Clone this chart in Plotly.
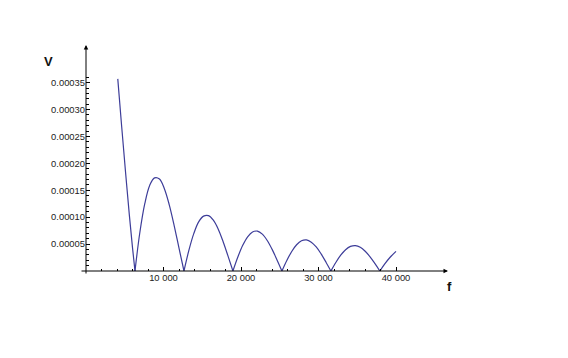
import plotly.graph_objects as go

# Frequency samples (Hz)
f_vals = [4100, 4600, 5100, 5600, 6000, 6320,
          6952, 7584, 8216, 8848, 9480, 10112, 10744, 11376, 12008, 12640,
          13272, 13904, 14536, 15168, 15800, 16432, 17064, 17696, 18328, 18960,
          19592, 20224, 20856, 21488, 22120, 22752, 23384, 24016, 24648, 25280,
          25912, 26544, 27176, 27808, 28440, 29072, 29704, 30336, 30968, 31600,
          32232, 32864, 33496, 34128, 34760, 35392, 36024, 36656, 37288, 37920,
          38552, 39184, 40000]

# Amplitude values (in units of 1e-5 V)
v_e5 = [35.7, 26.9, 18.4, 10.3, 4.35, 0,
        7.2, 12.5, 15.9, 17.3, 17.1, 15.3, 12.3, 8.45, 4.2, 0,
        3.82, 6.94, 9.13, 10.2, 10.3, 9.45, 7.78, 5.45, 2.77, 0,
        2.59, 4.77, 6.36, 7.26, 7.41, 6.85, 5.67, 4.02, 2.06, 0,
        1.96, 3.63, 4.88, 5.61, 5.77, 5.36, 4.47, 3.18, 1.64, 0,
        1.57, 2.93, 3.96, 4.57, 4.72, 4.41, 3.68, 2.63, 1.36, 0,
        1.31, 2.46, 3.65]
v_vals = [v * 1e-5 for v in v_e5]

x_tickvals = [10000, 20000, 30000, 40000]
x_ticktext = ["10 000", "20 000", "30 000", "40 000"]
y_tickvals = [0.00005, 0.00010, 0.00015, 0.00020, 0.00025, 0.00030, 0.00035]
y_ticktext = ["0.00005", "0.00010", "0.00015", "0.00020", "0.00025", "0.00030", "0.00035"]

x_minor = [v for v in range(2000, 40001, 2000) if v % 10000]
y_minor = [k * 1e-5 for k in range(1, 37) if k % 5]

W, H = 568, 358
L, R, T, B = 86, 120, 45, 87
pw = W - L - R
ph = H - T - B
XMAX = pw / 0.00775
YMAX = 0.00042

fig = go.Figure()

# split the curve into arches at its zeros so cusps stay sharp
segments = []
cur_x, cur_y = [], []
for fx, vy in zip(f_vals, v_vals):
    cur_x.append(fx)
    cur_y.append(vy)
    if vy == 0 and len(cur_x) > 1:
        segments.append((cur_x, cur_y))
        cur_x, cur_y = [fx], [vy]
if len(cur_x) > 1:
    segments.append((cur_x, cur_y))

for sx, sy in segments:
    fig.add_trace(go.Scatter(x=sx, y=sy, mode="lines",
                             line=dict(color="#3d3d99", width=1.2, shape="spline", smoothing=1),
                             cliponaxis=False, hoverinfo="skip"))

tickfont = dict(family="Liberation Sans, Arial, sans-serif", size=9.4, color="#222")

fig.update_layout(
    width=W, height=H,
    margin=dict(l=L, r=R, t=T, b=B, pad=0),
    paper_bgcolor="white", plot_bgcolor="white",
    showlegend=False,
    xaxis=dict(range=[0, XMAX], showgrid=False, zeroline=False, showline=False,
               tickmode="array", tickvals=x_tickvals, ticktext=x_ticktext,
               ticks="inside", ticklen=4, tickwidth=1, tickcolor="black",
               tickfont=tickfont,
               minor=dict(tickmode="array", tickvals=x_minor, ticks="inside",
                          ticklen=2.5, tickwidth=1, tickcolor="black")),
    yaxis=dict(range=[0, YMAX], showgrid=False, zeroline=False, showline=False,
               tickmode="array", tickvals=y_tickvals, ticktext=y_ticktext,
               ticks="inside", ticklen=4, tickwidth=1, tickcolor="black",
               tickfont=tickfont,
               minor=dict(tickmode="array", tickvals=y_minor, ticks="inside",
                          ticklen=2.5, tickwidth=1, tickcolor="black")),
)

# Axis lines with arrowheads
fig.add_annotation(x=1, y=0, xref="paper", yref="paper", ax=-(pw + 6), ay=0,
                   axref="pixel", ayref="pixel", text="", showarrow=True,
                   arrowhead=2, arrowsize=0.9, arrowwidth=1, arrowcolor="black")
fig.add_annotation(x=0, y=1, xref="paper", yref="paper", ax=0, ay=ph + 4,
                   text="", showarrow=True,
                   arrowhead=2, arrowsize=0.9, arrowwidth=1, arrowcolor="black")

# Axis labels
lab_font = dict(family="Liberation Sans, Arial, sans-serif", size=13, color="#111")
fig.add_annotation(x=(48.7 - L) / pw, y=1 - (61.5 - T) / ph, xref="paper", yref="paper",
                   xanchor="center", yanchor="middle",
                   text="<b>V</b>", showarrow=False, font=lab_font)
fig.add_annotation(x=(449.5 - L) / pw, y=1 - (286 - T) / ph, xref="paper", yref="paper",
                   xanchor="center", yanchor="middle",
                   text="<b>f</b>", showarrow=False, font=lab_font)

fig.write_html("out.html")
